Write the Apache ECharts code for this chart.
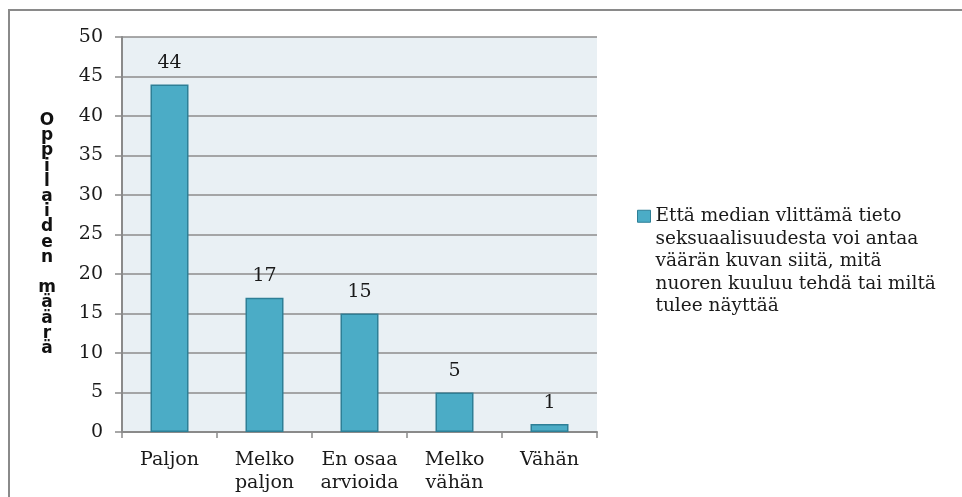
<!DOCTYPE html>
<html>
<head>
<meta charset="UTF-8">
<title>Oppilaiden määrä</title>
<script type="text/javascript" src="https://cdn.jsdelivr.net/npm/echarts@6/dist/echarts.min.js"></script>
</head>
<body style="margin:0;background:#fff;">
	<div id="chart" style="width: 962px; height: 497px;"></div>

	<script type="text/javascript">
	var categories = ['Paljon', 'Melko\npaljon', 'En osaa\narvioida', 'Melko\nvähän', 'Vähän'];
	var values = [44, 17, 15, 5, 1];
	var seriesName = 'Että median vlittämä tieto\nseksuaalisuudesta voi antaa\nväärän kuvan siitä, mitä\nnuoren kuuluu tehdä tai miltä\ntulee näyttää';
	var yTitle = 'Oppilaiden määrä';

	var chart = echarts.init(document.getElementById('chart'));
	var serif = '"DejaVu Serif", "Liberation Serif", serif';

	var option = {
		animation: false,
		graphic: [{
			type: 'rect',
			shape: { x: 9, y: 10, width: 970, height: 500 },
			style: { fill: 'none', stroke: '#8a8a8a', lineWidth: 2 },
			silent: true
		}],
		grid: {
			left: 122, top: 37, width: 475, height: 395,
			show: true,
			backgroundColor: '#e9f0f4',
			borderWidth: 0
		},
		legend: {
			left: 637, top: 115,
			padding: 0,
			orient: 'vertical',
			itemWidth: 13, itemHeight: 12,
			itemGap: 0,
			icon: 'rect',
			// blank lines keep the marker level with the first text line
			formatter: function (name) { return '\n\n\n\n' + name; },
			textStyle: { fontFamily: serif, fontSize: 18.5, color: '#1a1a1a', lineHeight: 22.5 },
			data: [{ name: seriesName, itemStyle: { borderColor: '#2e7f96', borderWidth: 1 } }]
		},
		xAxis: {
			type: 'category',
			data: categories,
			axisLine: { lineStyle: { color: '#8a8a8a', width: 2 } },
			axisTick: { show: true, length: 6, lineStyle: { color: '#8a8a8a', width: 1.5 } },
			axisLabel: { fontFamily: serif, fontSize: 19, color: '#1a1a1a', lineHeight: 23, margin: 17, interval: 0 }
		},
		yAxis: {
			type: 'value',
			min: 0, max: 50, interval: 5,
			name: yTitle.split('').join('\n'),
			nameLocation: 'middle',
			nameRotate: 0,
			nameGap: 75,
			nameTextStyle: { fontFamily: '"DejaVu Sans", sans-serif', fontWeight: 'bold', fontSize: 17, lineHeight: 15.2, color: '#111', align: 'center' },
			axisLine: { show: true, lineStyle: { color: '#8a8a8a', width: 2 } },
			axisTick: { show: true, length: 7, lineStyle: { color: '#8a8a8a', width: 1.5 } },
			axisLabel: { fontFamily: serif, fontSize: 19, color: '#1a1a1a', margin: 19 },
			splitLine: { lineStyle: { color: '#8c8c8c', width: 1.5 } }
		},
		series: [{
			name: seriesName,
			type: 'bar',
			data: values,
			barWidth: 38,
			itemStyle: { color: '#4bacc6', borderColor: '#2e7f96', borderWidth: 1.5 },
			label: { show: true, position: 'top', distance: 12, fontFamily: serif, fontSize: 19, color: '#1a1a1a' }
		}]
	};

	chart.setOption(option);
	</script>
</body>
</html>
